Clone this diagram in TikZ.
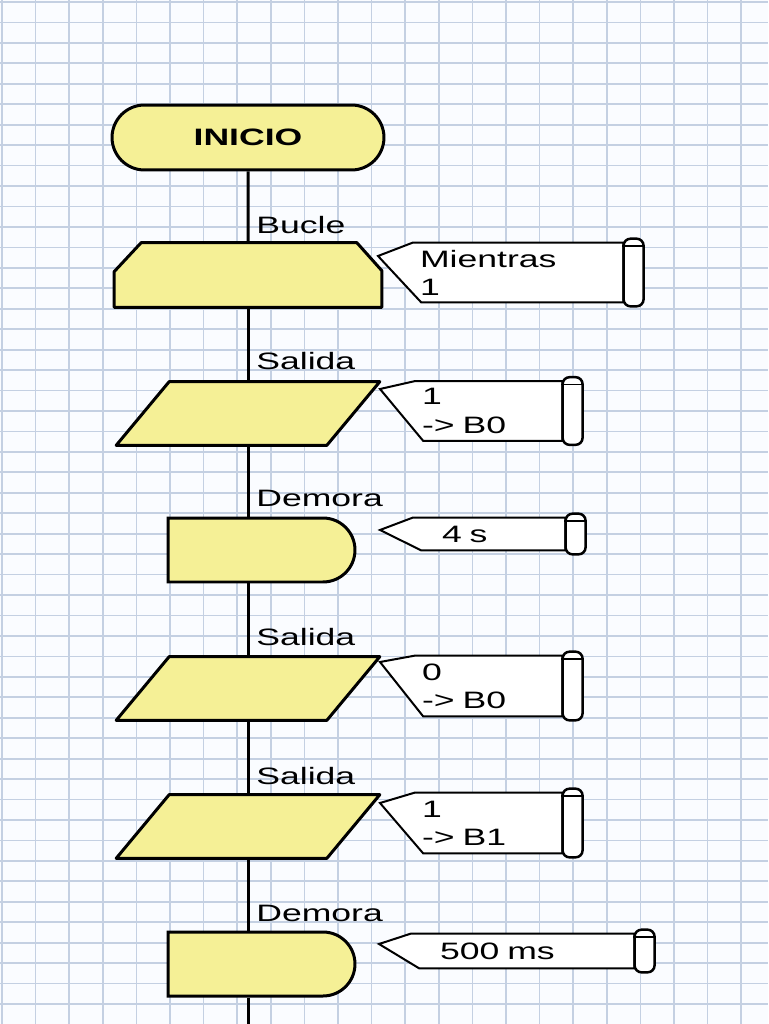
\documentclass[tikz,border=0pt]{standalone}
\usepackage{fontspec}
\setmainfont{Liberation Sans}[FakeStretch=1.5]
\usetikzlibrary{positioning,shapes.misc,calc,backgrounds}

\definecolor{flowyellow}{RGB}{245,240,150}
\definecolor{gridblue}{RGB}{196,208,226}
\definecolor{paper}{RGB}{250,252,255}

\begin{document}
\begin{tikzpicture}[x=0.02cm, y=-0.02cm,
  blk/.style={draw, line width=0.06cm, fill=flowyellow, inner sep=0pt},
  blkline/.style={draw, line width=0.06cm, fill=flowyellow, line join=round},
  slot/.style={inner sep=0pt},
  term/.style={blk, rounded rectangle, minimum width=5.44cm, minimum height=1.3cm,
               font=\fontsize{13.5}{16}\selectfont\bfseries},
  loopbox/.style={slot, minimum width=5.34cm, minimum height=1.28cm},
  io/.style={slot, minimum width=5.26cm, minimum height=1.26cm},
  wait/.style={blk, rounded rectangle, rounded rectangle left arc=none,
               minimum width=3.74cm, minimum height=1.28cm},
  lbl/.style={anchor=base west, inner sep=0pt, font=\fontsize{13.5}{16}\selectfont},
  tag/.style={inner xsep=0.14cm, inner ysep=0pt, align=left, font=\fontsize{13.5}{16}\selectfont},
  tagline/.style={draw, line width=0.04cm, fill=white},
  roll/.style={draw, line width=0.05cm, fill=white, rounded corners=0.14cm,
               minimum width=0.4cm, inner sep=0pt},
  spine/.style={line width=0.06cm},
  gridline/.style={gridblue, line width=0.035cm}]
\useasboundingbox (0,0) rectangle (768,1024);
% squared paper
\begin{scope}[on background layer]
  \fill[paper] (0,0) rectangle (768,1024);
  \foreach \i in {0,...,22} \draw[gridline] ({2+33.6*\i},0) -- ({2+33.6*\i},1024);
  \foreach \j in {0,...,50} \draw[gridline] (0,{2+20.45*\j}) -- (768,{2+20.45*\j});
\end{scope}

% flow blocks
\node[term] (ini) at (248,137.5) {INICIO};
\node[loopbox] (bucle) at (248,275) {};
\node[io] (sal1) at (248,413.5) {};
\node[wait] (dem1) at (261.5,550) {};
\node[io] (sal2) at (248,688.5) {};
\node[io] (sal3) at (248,826.5) {};
\node[wait] (dem2) at (261.5,964) {};
\coordinate (fin) at (248,1024);

\draw[blkline] ([xshift=0.54cm]bucle.north west) -- ([xshift=-0.5cm]bucle.north east)
  -- ([yshift=-0.56cm]bucle.north east) -- (bucle.south east) -- (bucle.south west)
  -- ([yshift=-0.58cm]bucle.north west) -- cycle;
\foreach \s in {sal1,sal2,sal3}
  \draw[blkline] ([xshift=1.06cm]\s.north west) -- (\s.north east)
    -- ([xshift=-1.06cm]\s.south east) -- (\s.south west) -- cycle;

\draw[spine] (ini) -- (ini |- bucle.north);
\draw[spine] (bucle) -- (bucle |- sal1.north);
\draw[spine] (sal1) -- (sal1 |- dem1.north);
\draw[spine] (sal1 |- dem1.south) -- (sal2);
\draw[spine] (sal2) -- (sal3);
\draw[spine] (sal3) -- (sal3 |- dem2.north);
\draw[spine] (sal3 |- dem2.south) -- (fin);

% block labels
\node[lbl] (lbucle) at (256,233) {Bucle};
\node[lbl] (lsal1) at (256,369) {Salida};
\node[lbl] (ldem1) at (256,506) {Demora};
\node[lbl] (lsal2) at (256,645) {Salida};
\node[lbl] (lsal3) at (256,784) {Salida};
\node[lbl] (ldem2) at (256,921) {Demora};

% parameter tags
\node[tag, minimum height=1.18cm, text width=3.92cm] (tbucle) at (518,272.5) {Mientras\\1};
\node[tag, minimum height=1.18cm, text width=2.66cm] (tsal1) at (488.5,411) {1\\-> B0};
\node[tag, minimum height=0.64cm, text width=1.88cm, inner xsep=0.58cm] (tdem1) at (489,534) {4 s};
\node[tag, minimum height=1.2cm, text width=2.66cm] (tsal2) at (488.5,686) {0\\-> B0};
\node[tag, minimum height=1.2cm, text width=2.66cm] (tsal3) at (488.5,823) {1\\-> B1};
\node[tag, minimum height=0.68cm, text width=3.3cm, inner xsep=0.58cm] (tdem2) at (522.5,951) {500 ms};

\coordinate (pbucle) at (378,256);
\coordinate (psal1) at (380,389);
\coordinate (pdem1) at (380,530);
\coordinate (psal2) at (380,662);
\coordinate (psal3) at (380,803);
\coordinate (pdem2) at (379,944);

\begin{scope}[on background layer]
  \foreach \t in {bucle,sal1,dem1,sal2,sal3,dem2}
    \draw[tagline] (p\t) -- (t\t.north west) -- (t\t.north east) -- (t\t.south east)
      -- ([xshift=0.17cm]t\t.south west) -- cycle;
\end{scope}

\foreach \t in {bucle,sal1,dem1,sal2,sal3,dem2} {
  \path let \p1=($(t\t.north)-(t\t.south)$) in
    node[roll, minimum height={veclen(\x1,\y1)+0.16cm}, right=-0.02cm of t\t] (r\t) {};
  \draw[line width=0.03cm] ([yshift=-0.17cm]r\t.north west) -- ([yshift=-0.17cm]r\t.north east);
}
\end{tikzpicture}
\end{document}
